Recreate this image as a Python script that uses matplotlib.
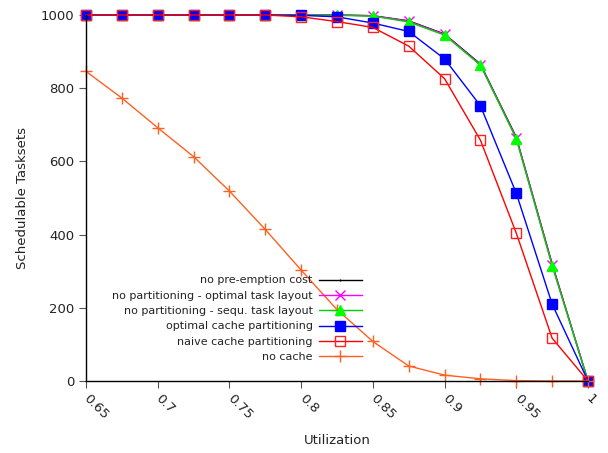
import matplotlib
matplotlib.use("Agg")
import matplotlib.pyplot as plt
import numpy as np

utilization = [0.65, 0.675, 0.7, 0.725, 0.75, 0.775, 0.8, 0.825, 0.85, 0.875, 0.9, 0.925, 0.95, 0.975, 1.0]

no_preemption = [1000, 1000, 1000, 1000, 1000, 1000, 1000, 1000, 998, 984, 948, 866, 666, 320, 0]
no_part_optimal = [1000, 1000, 1000, 1000, 1000, 1000, 1000, 1000, 998, 983, 947, 864, 664, 318, 0]
no_part_sequ = [1000, 1000, 1000, 1000, 1000, 1000, 1000, 999, 997, 981, 945, 863, 662, 315, 0]
optimal_cache = [1000, 1000, 1000, 1000, 1000, 1000, 999, 995, 978, 955, 880, 752, 513, 210, 0]
naive_cache = [1000, 1000, 1000, 1000, 1000, 1000, 995, 982, 966, 915, 826, 658, 404, 117, 0]
no_cache = [846, 773, 692, 613, 519, 414, 303, 195, 108, 41, 16, 6, 1, 0, 0]

labels = ["no pre-emption cost",
          "no partitioning - optimal task layout",
          "no partitioning - sequ. task layout",
          "optimal cache partitioning",
          "naive cache partitioning",
          "no cache"]

xticks = [0.65, 0.7, 0.75, 0.8, 0.85, 0.9, 0.95, 1.0]
xticklabels = ["0.65", "0.7", "0.75", "0.8", "0.85", "0.9", "0.95", "1"]
yticks = [0, 200, 400, 600, 800, 1000]

fig = plt.figure(figsize=(6.08, 4.53), dpi=100)
ax = fig.add_axes([86/608, 1-381/453, (588-86)/608, (381-15)/453])

lw = 1.0
h1, = ax.plot(utilization, no_preemption, color='black', lw=lw, marker='.', ms=1, label=labels[0])
h2, = ax.plot(utilization, no_part_optimal, color='#ff00ff', lw=lw, marker='x', ms=7, mew=1.0, label=labels[1])
h3, = ax.plot(utilization, no_part_sequ, color='#00d000', lw=lw, marker='^', ms=7.5, mfc='#00ff00', mec='#00ff00', label=labels[2])
h4, = ax.plot(utilization, optimal_cache, color='#0000ff', lw=lw, marker='s', ms=7, mfc='#0000ff', mec='#0000ff', label=labels[3])
h5, = ax.plot(utilization, naive_cache, color='#ff0000', lw=lw, marker='s', ms=7.5, mfc='none', mec='#ff2020', mew=1.0, label=labels[4])
h6, = ax.plot(utilization, no_cache, color='#ff6020', lw=lw, marker='+', ms=8, mew=1.0, label=labels[5])

for h in (h1, h2, h3, h4, h5, h6):
    h.set_clip_on(False)

ax.set_xlim(0.65, 1.0)
ax.set_ylim(0, 1000)
ax.set_xticks(xticks)
ax.set_xticklabels(xticklabels, rotation=-45, ha='left', va='center', rotation_mode='anchor')
ax.set_yticks(yticks)
ax.tick_params(axis='both', direction='out', length=5, color='#555555', labelsize=9.5, labelcolor='#222222')
ax.tick_params(axis='x', pad=6)
ax.spines['top'].set_visible(False)
ax.spines['right'].set_visible(False)
ax.spines['left'].set_linewidth(1.0)
ax.spines['bottom'].set_linewidth(1.0)

ax.set_xlabel("Utilization", fontsize=9.5, color='#222222', labelpad=9)
ax.set_ylabel("Schedulable Tasksets", fontsize=9.5, color='#222222', labelpad=8)

leg = ax.legend(handles=[h1, h2, h3, h4, h5, h6], loc='upper right',
                bbox_to_anchor=((366-86)/(588-86), (381-271)/366),
                frameon=False, markerfirst=False, fontsize=8,
                handlelength=3.8, handletextpad=0.6, labelspacing=0.48,
                borderaxespad=0, numpoints=1)
for t in leg.get_texts():
    t.set_color('#222222')

fig.savefig("out.png", dpi=100)
